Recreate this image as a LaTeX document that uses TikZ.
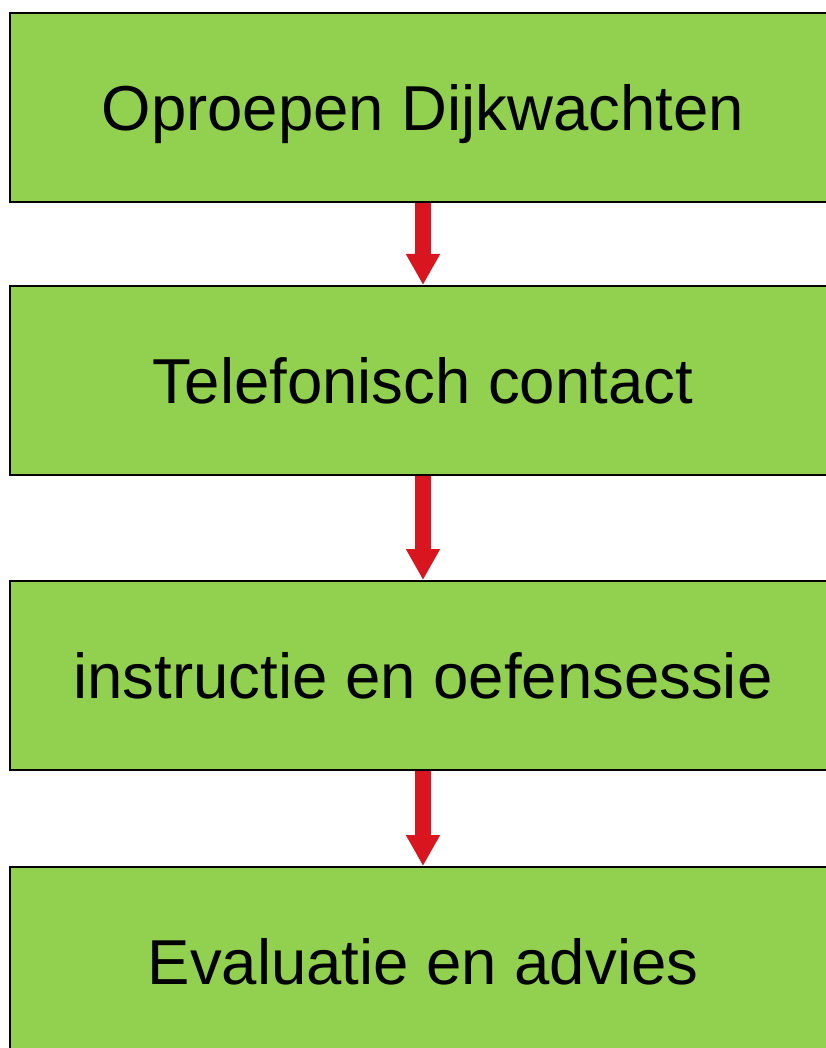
\documentclass[tikz,border=0pt]{standalone}
\usepackage{fontspec}
\setmainfont{Liberation Sans}
\usetikzlibrary{arrows.meta}
\definecolor{boxgreen}{HTML}{92D050}
\definecolor{arrowred}{HTML}{D9161F}
\begin{document}
\begin{tikzpicture}[x=1pt,y=-1pt,
  stepbox/.style={draw=black, line width=2pt, fill=boxgreen, minimum width=826pt, minimum height=189pt, inner sep=0pt, text height=45.5pt, text depth=0pt, font=\fontsize{63.5}{70}\selectfont, anchor=north},
  flow/.style={draw=arrowred, line width=16pt, -{Triangle[width=32pt,length=31pt]}, shorten >=0pt}]
\useasboundingbox (0,0) rectangle (826,1048);
\clip (0,0) rectangle (826,1048);
\node[stepbox] (b1) at (423,12) {Oproepen Dijkwachten};
\node[stepbox] (b2) at (423,285) {Telefonisch contact};
\node[stepbox] (b3) at (423,580) {instructie en oefensessie};
\node[stepbox] (b4) at (423,866) {Evaluatie en advies};
\draw[flow] (b1.south) -- (b2.north);
\draw[flow] (b2.south) -- (b3.north);
\draw[flow] (b3.south) -- (b4.north);
\end{tikzpicture}
\end{document}
